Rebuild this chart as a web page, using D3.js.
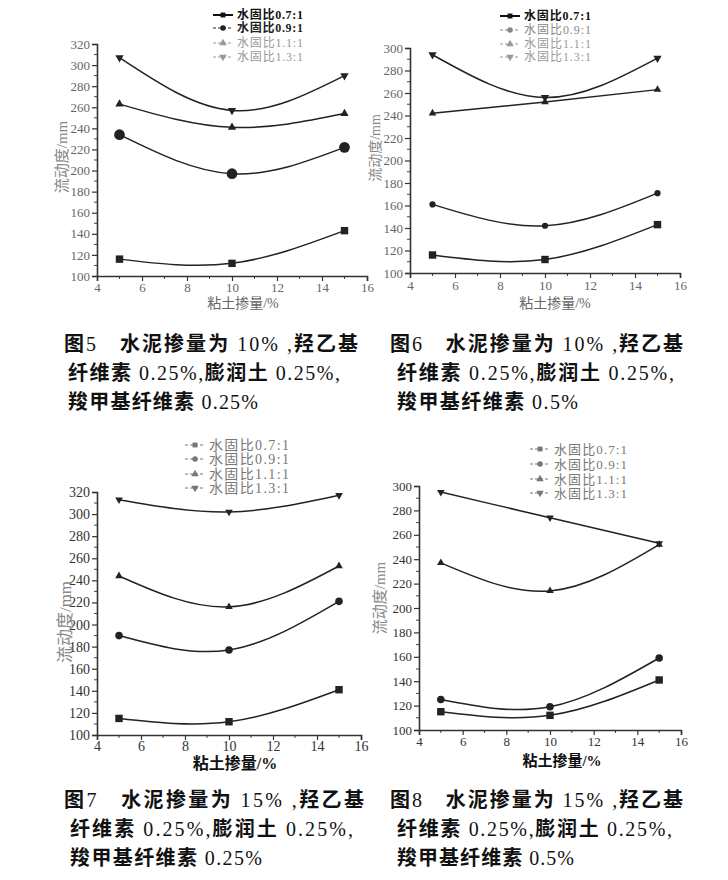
<!DOCTYPE html>
<html><head><meta charset="utf-8">
<script src="https://cdn.jsdelivr.net/npm/d3@7"></script>
<style>
html,body{margin:0;padding:0;background:#fff;}
svg{display:block;}
</style></head>
<body>
<svg id="c" width="728" height="880"></svg>
<script>
// ---- data ----
const clayContent = [5, 10, 15];
const seriesLabels = ["水固比0.7:1", "水固比0.9:1", "水固比1.1:1", "水固比1.3:1"];
const xTickValues = [4, 6, 8, 10, 12, 14, 16];
const yTicks320 = [100, 120, 140, 160, 180, 200, 220, 240, 260, 280, 300, 320];
const yTicks300 = [100, 120, 140, 160, 180, 200, 220, 240, 260, 280, 300];

const fig5_07 = [116, 112, 143];
const fig5_09 = [234, 197, 222];
const fig5_11 = [263, 241, 254];
const fig5_13 = [307, 257, 290];

const fig6_07 = [116, 112, 143];
const fig6_09 = [161, 142, 171];
const fig6_11 = [242, 252, 263];
const fig6_13 = [294, 256, 291];

const fig7_07 = [115, 112, 141];
const fig7_09 = [190, 177, 221];
const fig7_11 = [244, 216, 253];
const fig7_13 = [313, 302, 317];

const fig8_07 = [115, 112, 141];
const fig8_09 = [125, 119, 159];
const fig8_11 = [237, 214, 252];
const fig8_13 = [295, 274, 253];

const caption5 = ["图5　水泥掺量为 10% ,羟乙基", "纤维素 0.25%,膨润土 0.25%,", "羧甲基纤维素 0.25%"];
const caption6 = ["图6　水泥掺量为 10% ,羟乙基", "纤维素 0.25%,膨润土 0.25%,", "羧甲基纤维素 0.5%"];
const caption7 = ["图7　水泥掺量为 15% ,羟乙基", "纤维素 0.25%,膨润土 0.25%,", "羧甲基纤维素 0.25%"];
const caption8 = ["图8　水泥掺量为 15% ,羟乙基", "纤维素 0.25%,膨润土 0.25%,", "羧甲基纤维素 0.5%"];

const xTitle = "粘土掺量/%";
const yTitle = "流动度/mm";

// ---- drawing ----
const svg = d3.select("#c");
const serif = "'Liberation Serif','DejaVu Serif','Noto Sans CJK SC',serif";
const markerTypes = [d3.symbolSquare, d3.symbolCircle, d3.symbolTriangle, "down"];

function marker(g, type, x, y, size, color) {
  return g.append("path")
    .attr("d", d3.symbol(type === "down" ? d3.symbolTriangle : type, size)())
    .attr("transform", `translate(${x},${y})` + (type === "down" ? " rotate(180)" : ""))
    .attr("fill", color || "#222");
}

function panel(cfg) {
  const g = svg.append("g");
  const x = d3.scaleLinear().domain([4, 16]).range([cfg.x0, cfg.x1]);
  const y = d3.scaleLinear().domain([100, cfg.ymax]).range([cfg.yb, cfg.yt]);

  // minor ticks
  const yMinor = d3.range(110, cfg.ymax, 20);
  g.append("g").selectAll("line").data(yMinor).join("line")
    .attr("x1", cfg.x0 - 3).attr("x2", cfg.x0)
    .attr("y1", d => y(d)).attr("y2", d => y(d))
    .attr("stroke", "#444").attr("stroke-width", 1);
  const xMinor = d3.range(5, 16, 2);
  g.append("g").selectAll("line").data(xMinor).join("line")
    .attr("y1", cfg.yb).attr("y2", cfg.yb + 3)
    .attr("x1", d => x(d)).attr("x2", d => x(d))
    .attr("stroke", "#444").attr("stroke-width", 1);

  const yAxis = d3.axisLeft(y).tickValues(cfg.yTicks).tickSize(5).tickPadding(2).tickFormat(d3.format("d"));
  const xAxis = d3.axisBottom(x).tickValues(xTickValues).tickSize(5).tickPadding(cfg.xPad).tickFormat(d3.format("d"));

  const ya = g.append("g").attr("transform", `translate(${cfg.x0},0)`).call(yAxis);
  const xa = g.append("g").attr("transform", `translate(0,${cfg.yb})`).call(xAxis);
  [ya, xa].forEach(a => {
    a.select(".domain").attr("stroke", "#333").attr("stroke-width", 1.6);
    a.selectAll(".tick line").attr("stroke", "#333").attr("stroke-width", 1.2);
    a.selectAll(".tick text").attr("fill", cfg.tickColor).style("font-family", serif)
      .style("font-size", cfg.tickFont + "px");
  });

  // axis titles
  g.append("text").attr("x", cfg.xtx).attr("y", cfg.yb + cfg.xtOff)
    .attr("text-anchor", "middle").attr("fill", cfg.xTitleColor)
    .style("font-family", serif).style("font-size", cfg.xtFont + "px").style("font-weight", cfg.xTitleWeight)
    .text(xTitle);
  g.append("text")
    .attr("transform", `translate(${cfg.ytx},${cfg.yty}) rotate(-90)`)
    .attr("text-anchor", "middle").attr("fill", "#888")
    .style("font-family", serif).style("font-size", cfg.ytFont + "px")
    .text(yTitle);

  // lines
  const line = d3.line().x((d, i) => x(clayContent[i])).y(d => y(d)).curve(d3.curveNatural);
  cfg.series.forEach((s, k) => {
    g.append("path").attr("d", line(s)).attr("fill", "none")
      .attr("stroke", "#222").attr("stroke-width", 1.5);
    s.forEach((v, i) => marker(g, markerTypes[k], x(clayContent[i]), y(v), cfg.msize[k]));
  });

  // legend
  seriesLabels.forEach((lab, k) => {
    const ly = cfg.legY[k];
    const lx = cfg.legX;
    const solid = k === 0 && cfg.legBold[0];
    g.append("line").attr("x1", lx).attr("x2", lx + 20).attr("y1", ly).attr("y2", ly)
      .attr("stroke", cfg.legColor[k]).attr("stroke-width", solid ? 2 : 1)
      .attr("stroke-dasharray", solid ? null : "3,2");
    marker(g, markerTypes[k], lx + 10, ly, 24, cfg.legColor[k]);
    g.append("text").attr("x", lx + 24).attr("y", ly + cfg.legFont * 0.36)
      .attr("fill", cfg.legColor[k])
      .style("font-family", serif).style("font-size", cfg.legFont + "px")
      .style("font-weight", cfg.legBold[k] ? "bold" : "normal")
      .attr("textLength", cfg.legW).attr("lengthAdjust", "spacing")
      .text(lab);
  });

  // caption: CJK runs bold, Latin runs regular
  cfg.caption.forEach((t, i) => {
    const txt = g.append("text").attr("x", cfg.capX[i]).attr("y", cfg.capY[i])
      .attr("fill", "#111")
      .style("font-family", serif).style("font-size", "20px")
      .attr("textLength", cfg.capW[i]).attr("lengthAdjust", "spacing");
    const runs = t.match(/[\x20-\x7e]+|[^\x20-\x7e]+/g);
    runs.forEach(r => {
      txt.append("tspan").style("font-weight", /[\x20-\x7e]/.test(r[0]) ? "normal" : "bold").text(r);
    });
  });
}

panel({
  x0: 97, x1: 367, yt: 44, yb: 276, ymax: 320, yTicks: yTicks320,
  series: [fig5_07, fig5_09, fig5_11, fig5_13], msize: [55, 90, 30, 30],
  tickColor: "#666", tickFont: 13, xPad: 2,
  xTitleColor: "#666", xTitleWeight: "normal", xtOff: 32, xtx: 243, xtFont: 14,
  ytx: 67, yty: 157, ytFont: 15,
  legX: 213, legY: [15, 28, 43, 57], legColor: ["#111", "#222", "#999", "#999"], legBold: [true, true, false, false],
  legFont: 12, legW: 66,
  caption: caption5, capX: [64, 68, 68], capY: [351, 380, 409], capW: [294, 272, 190]
});
panel({
  x0: 410, x1: 680, yt: 48, yb: 273, ymax: 300, yTicks: yTicks300,
  series: [fig6_07, fig6_09, fig6_11, fig6_13], msize: [55, 30, 25, 30],
  tickColor: "#666", tickFont: 13, xPad: 3,
  xTitleColor: "#666", xTitleWeight: "normal", xtOff: 35, xtx: 555, xtFont: 14,
  ytx: 380, yty: 148, ytFont: 14,
  legX: 500, legY: [16, 30, 44, 57], legColor: ["#111", "#888", "#999", "#999"], legBold: [true, false, false, false],
  legFont: 12, legW: 67,
  caption: caption6, capX: [390, 397, 397], capY: [351, 380, 409], capW: [293, 277, 181]
});
panel({
  x0: 97, x1: 361, yt: 492, yb: 735, ymax: 320, yTicks: yTicks320,
  series: [fig7_07, fig7_09, fig7_11, fig7_13], msize: [55, 45, 25, 25],
  tickColor: "#333", tickFont: 14, xPad: 1,
  xTitleColor: "#111", xTitleWeight: "bold", xtOff: 34, xtx: 235, xtFont: 16,
  ytx: 71, yty: 622, ytFont: 17,
  legX: 185, legY: [445, 459, 474, 488], legColor: ["#777", "#777", "#777", "#777"], legBold: [false, false, false, false],
  legFont: 14, legW: 80,
  caption: caption7, capX: [64, 70, 70], capY: [807, 836, 865], capW: [300, 283, 192]
});
panel({
  x0: 419, x1: 681, yt: 486, yb: 730, ymax: 300, yTicks: yTicks300,
  series: [fig8_07, fig8_09, fig8_11, fig8_13], msize: [55, 45, 25, 25],
  tickColor: "#333", tickFont: 13, xPad: 2,
  xTitleColor: "#111", xTitleWeight: "bold", xtOff: 36, xtx: 562, xtFont: 15,
  ytx: 385, yty: 598, ytFont: 15,
  legX: 530, legY: [449, 464, 479, 493], legColor: ["#777", "#777", "#777", "#777"], legBold: [false, false, false, false],
  legFont: 13, legW: 73,
  caption: caption8, capX: [390, 397, 397], capY: [807, 836, 865], capW: [293, 275, 177]
});
</script>
</body></html>
